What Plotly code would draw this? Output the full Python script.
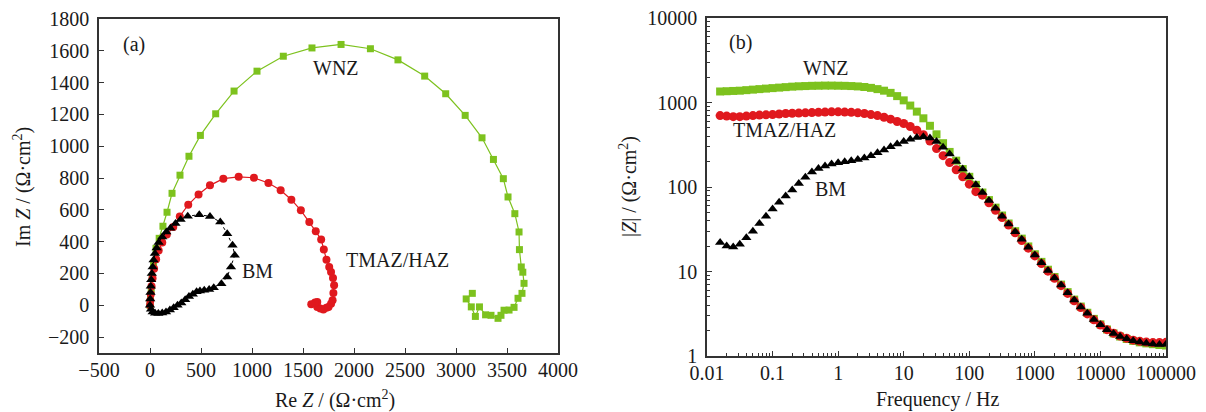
import plotly.graph_objects as go

# ---------------- Nyquist data (panel a) ----------------
wnz_re = [0, 5, 12, 22, 35, 59, 90, 127, 167, 216, 294, 382, 494, 644, 824, 1049, 1307, 1588, 1873,
          2161, 2431, 2693, 2899, 3090, 3255, 3367, 3464, 3510, 3577, 3618, 3622, 3640, 3655, 3667,
          3647, 3608, 3569, 3520, 3471, 3441, 3412, 3343, 3290, 3230, 3190, 3150, 3100, 3160]
wnz_im = [0, 40, 100, 170, 250, 358, 421, 497, 585, 704, 818, 937, 1068, 1204, 1347, 1472, 1566, 1618, 1640,
          1613, 1543, 1441, 1330, 1194, 1053, 917, 796, 681, 576, 461, 350, 241, 208, 138,
          75, 44, -13, -30, -31, -63, -82, -63, -60, -10, -70, -10, 40, 75]

haz_re = [0, 3, 8, 15, 25, 40, 60, 85, 120, 165, 228, 292, 375, 476, 588, 719, 869, 1019, 1161, 1281,
          1386, 1479, 1562, 1625, 1678, 1704, 1730, 1757, 1775, 1794, 1805, 1798, 1790, 1775, 1750,
          1730, 1700, 1670, 1640, 1640, 1618, 1581]
haz_im = [0, 30, 70, 120, 170, 230, 290, 345, 395, 445, 492, 559, 632, 697, 754, 796, 808, 802, 769, 723,
          664, 597, 524, 465, 413, 350, 287, 241, 209, 172, 126, 77, 31, 10, -10,
          -15, -27, -20, -10, 20, 17, 6]

bm_re = [0, 2, 5, 8, 12, 18, 26, 35, 48, 65, 85, 120, 160, 200, 250, 300, 370, 483, 588, 689, 757, 809,
         831, 794, 757, 700, 625, 580, 532, 490, 457, 420, 382, 345, 307, 270, 232, 195, 157, 120, 82,
         50, 26, 10]
bm_im = [0, 40, 80, 120, 160, 200, 240, 285, 325, 360, 395, 430, 460, 485, 515, 540, 560, 570, 559, 524,
         450, 377, 314, 241, 178, 136, 111, 100, 94, 90, 85, 70, 55, 35, 15, 0, -15, -30, -42, -48,
         -52, -50, -42, -25]

# ---------------- Bode data (panel b) ----------------
freq = [100000, 79433, 63096, 50119, 39811, 31623, 25119, 19953, 15849, 12589,
        10000, 7943, 6310, 5012, 3981, 3162, 2512, 1995, 1585, 1259,
        1000, 794.3, 631.0, 501.2, 398.1, 316.2, 251.2, 199.5, 158.5, 125.9,
        100, 79.43, 63.10, 50.12, 39.81, 31.62, 25.12, 19.95, 15.85, 12.59,
        10, 7.943, 6.310, 5.012, 3.981, 3.162, 2.512, 1.995, 1.585, 1.259,
        1, 0.7943, 0.6310, 0.5012, 0.3981, 0.3162, 0.2512, 0.1995, 0.1585, 0.1259,
        0.1, 0.07943, 0.06310, 0.05012, 0.03981, 0.03162, 0.02512, 0.01995, 0.01585]

wnz_z = [1.33, 1.35, 1.38, 1.41, 1.45, 1.51, 1.59, 1.70, 1.85, 2.06,
         2.37, 2.75, 3.25, 3.85, 4.65, 5.7, 7.0, 8.6, 10.5, 13.0,
         16.0, 19.8, 24.5, 30, 37, 46, 57, 70, 86,
         106, 132, 163, 205, 260, 330, 420, 530, 650, 780,
         920, 1060, 1190, 1300, 1380, 1440, 1490, 1525, 1550, 1565,
         1575, 1580, 1585, 1585, 1580, 1575, 1565, 1555, 1540, 1520,
         1500, 1480, 1460, 1440, 1420, 1400, 1380, 1370, 1360, 1350]

haz_z = [1.45, 1.44, 1.44, 1.46, 1.49, 1.54, 1.62, 1.72, 1.86, 2.05,
         2.33, 2.68, 3.15, 3.75, 4.5, 5.5, 6.8, 8.3, 10.1, 12.4,
         15.3, 18.9, 23.3, 28.7, 35.5, 43.5, 53, 65, 80,
         88, 108, 132, 160, 195, 235, 285, 350, 415, 470,
         520, 565, 595, 635, 670, 700, 720, 740, 755, 765,
         770, 775, 775, 770, 765, 760, 755, 750, 745, 740,
         730, 720, 715, 710, 700, 690, 680, 680, 690, 700]

bm_z = [1.38, 1.37, 1.39, 1.42, 1.46, 1.52, 1.60, 1.70, 1.85, 2.05,
        2.35, 2.7, 3.2, 3.8, 4.6, 5.6, 6.9, 8.4, 10.3, 12.7,
        15.7, 19.4, 24, 29.5, 36.5, 45, 56, 69, 86,
        106, 132, 163, 200, 245, 295, 345, 380, 392, 385,
        368, 345, 322, 300, 275, 255, 235, 220, 211, 205,
        199, 193, 187, 177, 165, 150, 130, 110, 92, 78,
        66, 55, 45, 37, 30, 25, 21, 19.5, 20, 22]

# tick labels
nyq_x_ticks = [-500, 0, 500, 1000, 1500, 2000, 2500, 3000, 3500, 4000]
nyq_y_ticks = [-200, 0, 200, 400, 600, 800, 1000, 1200, 1400, 1600, 1800]
freq_ticks = [0.01, 0.1, 1, 10, 100, 1000, 10000, 100000]
freq_ticktext = ["0.01", "0.1", "1", "10", "100", "1000", "10000", "100000"]
z_ticks = [1, 10, 100, 1000, 10000]
z_ticktext = ["1", "10", "100", "1000", "10000"]

GREEN = "#7DC21E"
RED = "#E0191E"
BLACK = "#000000"
FONT = "Liberation Serif"
TXT = "#1a1a1a"

fig = go.Figure()

# Panel (a)
fig.add_trace(go.Scatter(x=wnz_re, y=wnz_im, mode="lines+markers", xaxis="x", yaxis="y",
                         line=dict(color=GREEN, width=1.2),
                         marker=dict(symbol="square", size=7, color=GREEN), showlegend=False))
fig.add_trace(go.Scatter(x=haz_re, y=haz_im, mode="lines+markers", xaxis="x", yaxis="y",
                         line=dict(color=RED, width=1.2),
                         marker=dict(symbol="circle", size=8, color=RED), showlegend=False))
fig.add_trace(go.Scatter(x=bm_re, y=bm_im, mode="lines+markers", xaxis="x", yaxis="y",
                         line=dict(color=BLACK, width=1, dash="dot"),
                         marker=dict(symbol="triangle-up", size=9, color=BLACK), showlegend=False))

# Panel (b)
fig.add_trace(go.Scatter(x=freq, y=wnz_z, mode="markers", xaxis="x2", yaxis="y2",
                         marker=dict(symbol="square", size=8, color=GREEN), showlegend=False))
fig.add_trace(go.Scatter(x=freq, y=haz_z, mode="markers", xaxis="x2", yaxis="y2",
                         marker=dict(symbol="circle", size=9, color=RED), showlegend=False))
fig.add_trace(go.Scatter(x=freq, y=bm_z, mode="markers", xaxis="x2", yaxis="y2",
                         marker=dict(symbol="triangle-up", size=9, color=BLACK), showlegend=False))

axis_common = dict(showline=True, linecolor="#333333", linewidth=1.5, mirror=True,
                   ticks="inside", ticklen=5, tickwidth=1, tickcolor="#333333",
                   showgrid=False, zeroline=False, automargin=False,
                   tickfont=dict(family=FONT, size=20, color=TXT))

W, H = 1206, 412
fig.update_layout(
    width=W, height=H, margin=dict(l=0, r=0, t=0, b=0, pad=0, autoexpand=False),
    paper_bgcolor="white", plot_bgcolor="white",
    font=dict(family=FONT, size=20, color=TXT),
    xaxis=dict(domain=[99 / W, 558 / W], range=[-500, 4000], tickvals=nyq_x_ticks,
               ticklabelstandoff=-2, anchor="y", **axis_common),
    yaxis=dict(domain=[(H - 353) / H, (H - 19) / H], range=[-300, 1800],
               tickvals=nyq_y_ticks, ticklabelstandoff=4, anchor="x", **axis_common),
    xaxis2=dict(domain=[707 / W, 1166 / W], type="log", range=[-2, 5],
                tickvals=freq_ticks, ticktext=freq_ticktext, ticklabelstandoff=-2, anchor="y2",
                minor=dict(ticks="inside", ticklen=3, dtick="D1", tickcolor="#333333", showgrid=False),
                **axis_common),
    yaxis2=dict(domain=[(H - 356) / H, (H - 18) / H], type="log", range=[0, 4],
                tickvals=z_ticks, ticktext=z_ticktext, ticklabelstandoff=4, anchor="x2",
                minor=dict(ticks="inside", ticklen=3, dtick="D1", tickcolor="#333333", showgrid=False),
                **axis_common),
)

def ann(text, x, y, size=20, angle=0):
    fig.add_annotation(text=text, x=x / W, y=(H - y) / H, xref="paper", yref="paper",
                       showarrow=False, xanchor="center", yanchor="middle", textangle=angle,
                       font=dict(family=FONT, size=size, color=TXT))

ann("(a)", 134, 45)
ann("WNZ", 336, 68)
ann("TMAZ/HAZ", 397, 260)
ann("BM", 257, 271)
ann("Im <i>Z</i> / (Ω·cm<sup>2</sup>)", 22, 187, angle=-90)
ann("Re <i>Z</i> / (Ω·cm<sup>2</sup>)", 335, 399)

ann("(b)", 740, 43)
ann("WNZ", 826, 68)
ann("TMAZ/HAZ", 784, 130)
ann("BM", 830, 189)
ann("|<i>Z</i>| / (Ω·cm<sup>2</sup>)", 628, 187, angle=-90)
ann("Frequency / Hz", 937, 399)

fig.write_html("out.html")
